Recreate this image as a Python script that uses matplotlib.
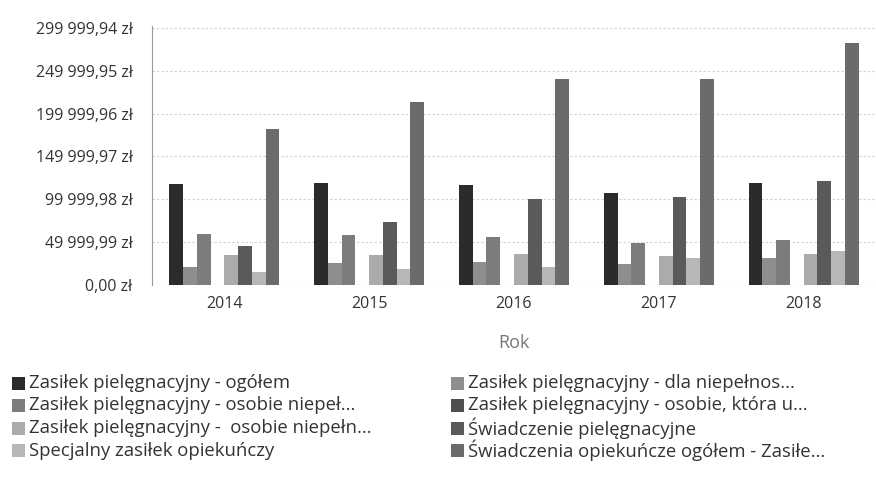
import matplotlib
matplotlib.use("Agg")
import matplotlib.pyplot as plt
import numpy as np
from matplotlib.patches import Rectangle

plt.rcParams['font.family'] = ['Open Sans', 'DejaVu Sans']

years = ["2014", "2015", "2016", "2017", "2018"]

series_names = [
    "Zasiłek pielęgnacyjny - ogółem",
    "Zasiłek pielęgnacyjny - dla niepełnos...",
    "Zasiłek pielęgnacyjny - osobie niepeł...",
    "Zasiłek pielęgnacyjny - osobie, która u...",
    "Zasiłek pielęgnacyjny -  osobie niepełn...",
    "Świadczenie pielęgnacyjne",
    "Specjalny zasiłek opiekuńczy",
    "Świadczenia opiekuńcze ogółem - Zasiłe...",
]

s_ogolem = [118000, 119000, 117000, 107000, 119000]
s_dla_niepelnos = [21000, 26000, 27000, 25000, 31000]
s_osobie_niepel = [59000, 58000, 56000, 48500, 52000]
s_osobie_ktora = [0, 0, 0, 0, 0]
s_osobie_niepeln = [35000, 35000, 36000, 34000, 36000]
s_swiadczenie = [45000, 74000, 100000, 103000, 121000]
s_specjalny = [15500, 18600, 21000, 32000, 39500]
s_opiekuncze = [182000, 214000, 241000, 241000, 282000]

series_values = [s_ogolem, s_dla_niepelnos, s_osobie_niepel, s_osobie_ktora,
                 s_osobie_niepeln, s_swiadczenie, s_specjalny, s_opiekuncze]

colors = ["#2b2b2b", "#8e8e8e", "#7c7c7c", "#4e4e4e",
          "#ababab", "#5a5a5a", "#b7b7b7", "#6b6b6b"]

ytick_vals = [0, 49999.99, 99999.98, 149999.97, 199999.96, 249999.95, 299999.94]
ytick_labels = ["0,00 zł", "49 999,99 zł", "99 999,98 zł", "149 999,97 zł",
                "199 999,96 zł", "249 999,95 zł", "299 999,94 zł"]

W, H = 876, 482
fig = plt.figure(figsize=(W/100, H/100), dpi=100)
ax = fig.add_axes([152/W, 1-285/H, 1-152/W, 260/H])

n = len(series_values)
group_w = 0.76
bw = group_w / n
x = np.arange(len(years))
for i, (vals, c) in enumerate(zip(series_values, colors)):
    ax.bar(x - group_w/2 + bw*(i+0.5), vals, width=bw, color=c, linewidth=0)

ax.set_xlim(-0.5, len(years)-0.5)
ax.set_ylim(0, 303500)
ax.set_yticks(ytick_vals)
ax.set_yticklabels(ytick_labels, fontsize=11.5, color="#333333")
ax.set_xticks(x)
ax.set_xticklabels(years, fontsize=11.5, color="#333333")
ax.tick_params(axis='both', length=0)
ax.tick_params(axis='y', pad=14)
ax.tick_params(axis='x', pad=8)
ax.set_xlabel("Rok", fontsize=13, color="#777777", labelpad=16)

for s in ["top", "right", "bottom"]:
    ax.spines[s].set_visible(False)
ax.spines["left"].set_color("#999999")
ax.spines["left"].set_linestyle((0, (1, 1)))
ax.spines["left"].set_linewidth(0.8)

ax.yaxis.grid(True, color="#cfcfcf", linestyle=(0, (2, 2)), linewidth=0.8)
ax.set_axisbelow(True)

# legend drawn manually in figure pixel coordinates
col1 = [0, 2, 4, 6]
col2 = [1, 3, 5, 7]
row_y = [383, 405.5, 428, 450.5]
sw = 13
for cols, sx in [(col1, 12), (col2, 451)]:
    for r, i in enumerate(cols):
        cy = row_y[r]
        fig.patches.append(Rectangle(((sx)/W, 1-(cy+sw/2)/H), sw/W, sw/H,
                                     transform=fig.transFigure, facecolor=colors[i],
                                     edgecolor='none'))
        fig.text((sx+sw+4)/W, 1-cy/H, series_names[i], fontsize=13.3,
                 color="#333333", va='center', ha='left')

fig.savefig("out.png", dpi=100, facecolor="white")
